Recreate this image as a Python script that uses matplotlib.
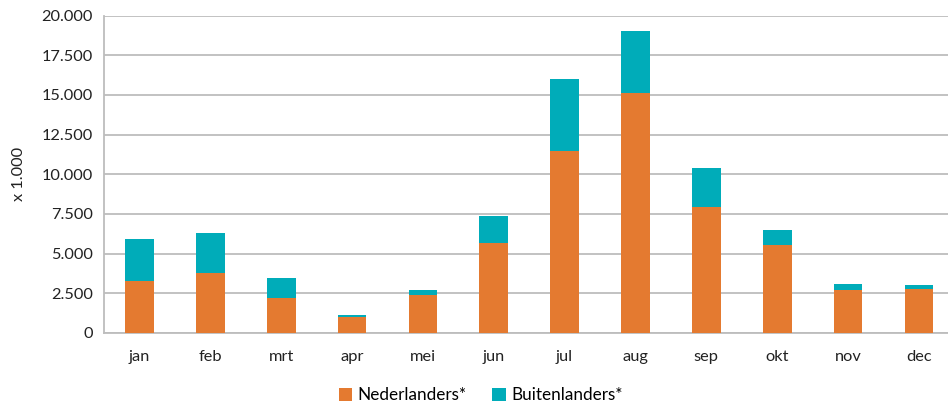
import numpy as np
import matplotlib.pyplot as plt
from matplotlib.ticker import FuncFormatter

maanden = ['jan', 'feb', 'mrt', 'apr', 'mei', 'jun', 'jul', 'aug', 'sep', 'okt', 'nov', 'dec']
nederlanders = [3280, 3760, 2200, 970, 2380, 5650, 11450, 15150, 7960, 5525, 2730, 2750]
totaal = [5900, 6300, 3470, 1150, 2710, 7400, 16030, 19060, 10380, 6510, 3090, 3030]
buitenlanders = [t - n for t, n in zip(totaal, nederlanders)]

oranje = '#E47A30'
blauw = '#00ACB9'

plt.rcParams['font.family'] = ['Lato', 'DejaVu Sans']

fig = plt.figure(figsize=(9.48, 4.13), dpi=100)
ax = fig.add_axes([0.1097, 0.194, 0.8903, 0.768])

x = np.arange(len(maanden))
ax.bar(x, nederlanders, width=0.405, color=oranje, label='Nederlanders*', zorder=3)
ax.bar(x, buitenlanders, width=0.405, bottom=nederlanders, color=blauw,
       label='Buitenlanders*', zorder=3)

ax.set_ylim(0, 20000)
ax.set_xlim(-0.5, 11.41)
ax.set_yticks(np.arange(0, 20001, 2500))
ax.yaxis.set_major_formatter(FuncFormatter(lambda v, p: f'{int(v):,}'.replace(',', '.')))
ax.set_xticks(x)
ax.set_xticklabels(maanden)
ax.tick_params(axis='both', length=0, labelsize=11.8, colors='#222222')
ax.tick_params(axis='x', pad=12)
ax.tick_params(axis='y', pad=8)
ax.grid(axis='y', color='#BDBDBD', linewidth=1.3, zorder=0)
for s in ['top', 'right']:
    ax.spines[s].set_visible(False)
ax.spines['left'].set_color('#BDBDBD')
ax.spines['bottom'].set_color('#BDBDBD')
ax.spines['left'].set_linewidth(1.3)
ax.spines['bottom'].set_linewidth(1.3)
ax.set_ylabel('x 1.000', fontsize=11.8, color='#222222', labelpad=11)

fig.legend(loc='lower center', bbox_to_anchor=(0.507, -0.014), ncol=2, frameon=False,
           fontsize=12.3, handlelength=0.8, handleheight=0.8, handletextpad=0.3,
           columnspacing=1.5)

fig.savefig('out.png', dpi=100)
